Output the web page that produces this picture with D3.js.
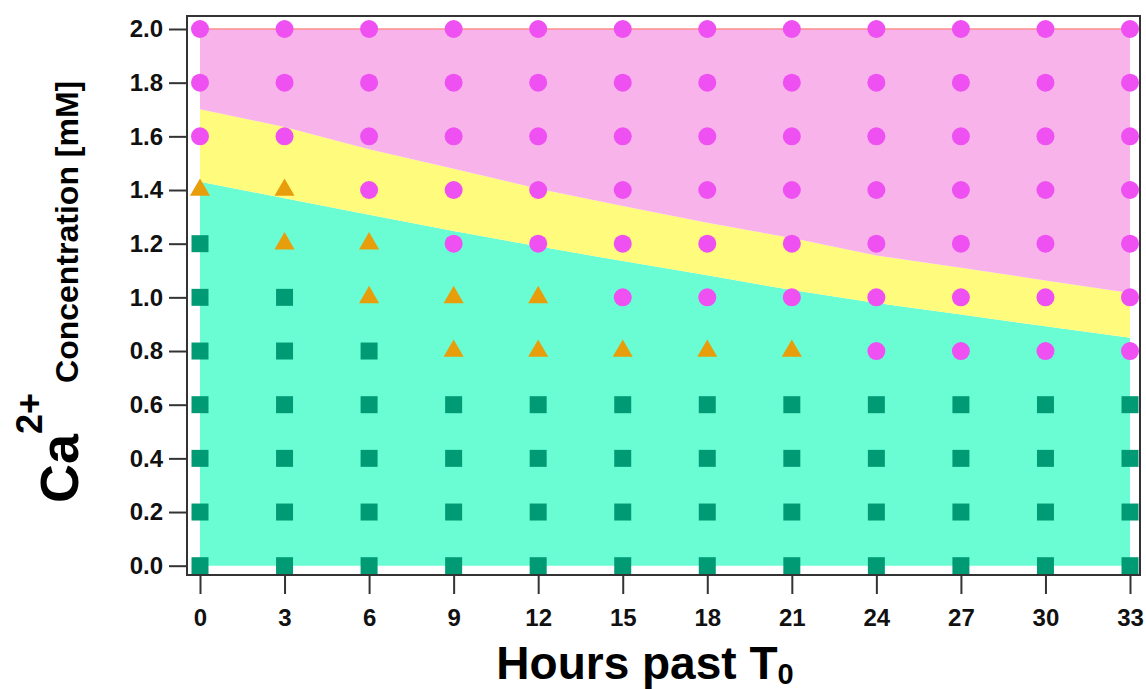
<!DOCTYPE html>
<html>
<head>
<meta charset="utf-8">
<script src="https://cdn.jsdelivr.net/npm/d3@7/dist/d3.min.js"></script>
<style>
  html, body { margin: 0; padding: 0; background: #ffffff; }
  svg { display: block; }
  text { font-family: "Liberation Sans", Arial, sans-serif; font-weight: bold; }
</style>
</head>
<body>
<svg id="chart" width="1146" height="689"></svg>
<script>
// Sampling grid: hours after T0 and Ca2+ concentrations (mM)
const hours = [0, 3, 6, 9, 12, 15, 18, 21, 24, 27, 30, 33];
const concentrations = [0.0, 0.2, 0.4, 0.6, 0.8, 1.0, 1.2, 1.4, 1.6, 1.8, 2.0];

// Region boundaries (mM) at each hour
const lowerBoundary = [1.431, 1.369, 1.308, 1.247, 1.190, 1.135, 1.082, 1.027, 0.979, 0.936, 0.892, 0.849];
const upperBoundary = [1.701, 1.635, 1.552, 1.479, 1.405, 1.340, 1.278, 1.221, 1.156, 1.110, 1.063, 1.016];

// Per hour: how many grid points (from 0 mM upward) are squares, then triangles; the rest are circles
const squareCount   = [7, 6, 5, 4, 4, 4, 4, 4, 4, 4, 4, 4];
const triangleCount = [1, 2, 2, 2, 2, 1, 1, 1, 0, 0, 0, 0];

const yTickLabels = concentrations.map(d => d.toFixed(1));
const xTickLabels = hours.map(String);

const colors = {
  teal: "#6afdd4",
  yellow: "#fffb7c",
  pink: "#f8b4ea",
  topLine: "#ff8c8c",
  square: "#009b74",
  triangle: "#e89e0a",
  circle: "#ee50f2",
  axis: "#333333",
  text: "#111111"
};

const svg = d3.select("#chart");
const frame = { left: 187, top: 16, right: 1140, bottom: 575 };

const x = d3.scaleLinear().domain([0, 33]).range([200, 1130]);
const y = d3.scaleLinear().domain([0, 2]).range([565.7, 29]);

const rows = hours.map((h, i) => ({ h, lo: lowerBoundary[i], hi: upperBoundary[i] }));

// Shaded regions
const area = (y0, y1) => d3.area().x(d => x(d.h)).y0(y0).y1(y1).curve(d3.curveLinear);

svg.append("path").datum(rows)
  .attr("fill", colors.teal)
  .attr("d", area(() => y(0), d => y(d.lo)));
svg.append("path").datum(rows)
  .attr("fill", colors.yellow)
  .attr("d", area(d => y(d.lo), d => y(d.hi)));
svg.append("path").datum(rows)
  .attr("fill", colors.pink)
  .attr("d", area(d => y(d.hi), () => y(2)));

svg.append("line")
  .attr("x1", x(0)).attr("x2", x(33))
  .attr("y1", y(2)).attr("y2", y(2))
  .attr("stroke", colors.topLine).attr("stroke-width", 1.5);

// Grid point markers
const points = [];
hours.forEach((h, i) => {
  concentrations.forEach((c, j) => {
    let kind = "circle";
    if (j < squareCount[i]) kind = "square";
    else if (j < squareCount[i] + triangleCount[i]) kind = "triangle";
    points.push({ h, c, kind });
  });
});

const symbolFor = {
  square: d3.symbol().type(d3.symbolSquare).size(17 * 17),
  triangle: d3.symbol().type(d3.symbolTriangle).size(175),
  circle: d3.symbol().type(d3.symbolCircle).size(Math.PI * 9 * 9)
};

svg.append("g").selectAll("path")
  .data(points)
  .join("path")
  .attr("transform", d => `translate(${x(d.h)},${y(d.c)})`)
  .attr("d", d => symbolFor[d.kind]())
  .attr("fill", d => colors[d.kind]);

// Frame
svg.append("rect")
  .attr("x", frame.left).attr("y", frame.top)
  .attr("width", frame.right - frame.left)
  .attr("height", frame.bottom - frame.top)
  .attr("fill", "none")
  .attr("stroke", colors.axis)
  .attr("stroke-width", 2);

// Axes
const yAxis = d3.axisLeft(y)
  .tickValues(concentrations)
  .tickFormat((d, i) => yTickLabels[i])
  .tickSize(18)
  .tickPadding(6);
const gy = svg.append("g").attr("transform", `translate(${frame.left},0)`).call(yAxis);

const xAxis = d3.axisBottom(x)
  .tickValues(hours)
  .tickFormat((d, i) => xTickLabels[i])
  .tickSize(19)
  .tickPadding(15);
const gx = svg.append("g").attr("transform", `translate(0,${frame.bottom})`).call(xAxis);

[gx, gy].forEach(g => {
  g.select(".domain").remove();
  g.selectAll(".tick line").attr("stroke", colors.axis).attr("stroke-width", 2);
  g.selectAll(".tick text")
    .attr("fill", colors.text)
    .style("font-size", "24px")
    .style("font-family", "'Liberation Sans', Arial, sans-serif")
    .style("font-weight", "bold");
});

// Axis titles
const xt = svg.append("text")
  .attr("x", 645).attr("y", 679)
  .attr("text-anchor", "middle")
  .attr("fill", "#000")
  .style("font-size", "46px");
xt.append("tspan").text("Hours past T");
xt.append("tspan").attr("dy", 5).style("font-size", "29px").text("0");

const yt = svg.append("text")
  .attr("transform", "translate(78,503) rotate(-90)")
  .attr("text-anchor", "start")
  .attr("fill", "#000");
yt.append("tspan").style("font-size", "54px").text("Ca");
yt.append("tspan").attr("dy", -36).style("font-size", "36px").text("2+");
yt.append("tspan").attr("dy", 36).attr("dx", 10).style("font-size", "32px").text("Concentration [mM]");
</script>
</body>
</html>
